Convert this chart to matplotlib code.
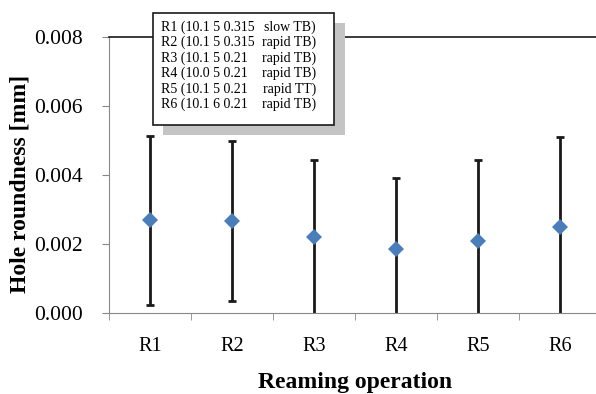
import matplotlib.pyplot as plt
import matplotlib.patches as mpatches
import numpy as np

plt.rcParams['font.family'] = ['Liberation Serif', 'DejaVu Serif']

operations = ['R1', 'R2', 'R3', 'R4', 'R5', 'R6']
roundness = [0.00269, 0.00266, 0.00219, 0.00185, 0.00209, 0.00250]
deviation = [0.00245, 0.00232, 0.00224, 0.00207, 0.00234, 0.00259]

legend_params = ['R1 (10.1 5 0.315', 'R2 (10.1 5 0.315', 'R3 (10.1 5 0.21',
                 'R4 (10.0 5 0.21', 'R5 (10.1 5 0.21', 'R6 (10.1 6 0.21']
legend_modes = ['slow TB)', 'rapid TB)', 'rapid TB)', 'rapid TB)', 'rapid TT)', 'rapid TB)']

fig = plt.figure(figsize=(5.96, 3.94), dpi=100)
ax = fig.add_axes([109 / 596, 1 - 313 / 394, 492 / 596, 276 / 394])

x = np.arange(len(operations))
ax.errorbar(x, roundness, yerr=deviation, fmt='none', ecolor='#1a1a1a',
            elinewidth=2, capsize=3, capthick=2, zorder=2)
ax.plot(x, roundness, 'D', color='#4a7ebb', markersize=8, markeredgewidth=0, zorder=3)

ax.set_xlim(-0.5, len(operations) - 0.5)
ax.set_ylim(0, 0.008)
ax.set_yticks(np.arange(0, 0.0081, 0.002))
ax.set_yticklabels(['%.3f' % v for v in np.arange(0, 0.0081, 0.002)])
ax.set_xticks(x)
ax.set_xticklabels(operations)
ax.set_xticks(np.arange(-0.5, len(operations), 1.0), minor=True)

for side in ['left', 'bottom']:
    ax.spines[side].set_color('#888888')
ax.spines['top'].set_color('#1a1a1a')
ax.spines['top'].set_linewidth(1.2)
ax.spines['right'].set_visible(False)

ax.tick_params(axis='x', which='major', length=0, labelsize=14.5, pad=17)
ax.tick_params(axis='x', which='minor', length=5, color='#888888')
ax.tick_params(axis='y', length=5, color='#888888', labelsize=15.5, pad=14)

ax.set_xlabel('Reaming operation', fontsize=17, fontweight='bold', labelpad=12)
ax.set_ylabel('Hole roundness [mm]', fontsize=17, fontweight='bold')
ax.yaxis.set_label_coords(-0.16, 0.467)

# legend box with shadow, drawn in figure pixels
def px(xp, yp):
    return xp / 596, 1 - yp / 394

sx, sy = px(163, 135)
fig.patches.append(mpatches.Rectangle((sx, sy), 182 / 596, 112 / 394, transform=fig.transFigure,
                                      facecolor='#c4c4c4', edgecolor='none', zorder=5))
bx, by = px(153, 125)
fig.patches.append(mpatches.Rectangle((bx, by), 181 / 596, 112 / 394, transform=fig.transFigure,
                                      facecolor='white', edgecolor='#1a1a1a', linewidth=1.2, zorder=6))
for i in range(len(legend_params)):
    ty = 27.3 + i * 15.4
    fig.text(*px(161, ty), legend_params[i], fontsize=10, va='center', ha='left', zorder=7)
    fig.text(*px(316, ty), legend_modes[i], fontsize=10, va='center', ha='right', zorder=7)

fig.savefig('out.png', dpi=100)
